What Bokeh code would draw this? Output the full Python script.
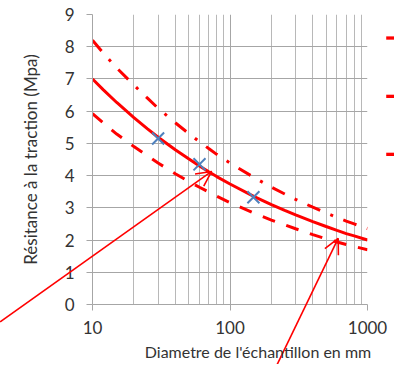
from bokeh.plotting import figure
from bokeh.models import Range1d, FixedTicker, PrintfTickFormatter, Arrow, OpenHead
from bokeh.core.properties import value
from bokeh.embed import file_html
from bokeh.resources import INLINE

# ---- data ----
diam = [10, 12, 15, 20, 25, 30, 40, 50, 60, 70, 80, 100, 150, 200, 250, 300, 400, 500, 600, 700, 800, 1000]
mean_res = [7.00, 6.66, 6.27, 5.80, 5.46, 5.19, 4.80, 4.52, 4.30, 4.12, 3.97, 3.74,
            3.35, 3.10, 2.92, 2.78, 2.57, 2.42, 2.30, 2.20, 2.13, 2.00]
upper_res = [8.20, 7.80, 7.34, 6.81, 6.41, 6.09, 5.64, 5.31, 5.05, 4.84, 4.66, 4.39,
             3.94, 3.64, 3.43, 3.26, 3.02, 2.84, 2.70, 2.59, 2.50, 2.36]
lower_res = [5.92, 5.63, 5.29, 4.90, 4.62, 4.39, 4.06, 3.82, 3.64, 3.49, 3.36, 3.16,
             2.83, 2.62, 2.47, 2.35, 2.17, 2.04, 1.94, 1.86, 1.80, 1.70]
meas_diam = [30, 60, 148]
meas_res = [5.15, 4.35, 3.33]
arrow_x0 = [2.13, 207]
arrow_y0 = [-0.54, -2.10]
arrow_x1 = [73.5, 612]
arrow_y1 = [4.13, 2.05]
x_major = [10, 100, 1000]
x_minor = [20, 30, 40, 50, 60, 70, 80, 90, 200, 300, 400, 500, 600, 700, 800, 900]
y_ticks = [0, 1, 2, 3, 4, 5, 6, 7, 8, 9]
y_title = "Résitance à la traction (Mpa)"
x_title = "Diametre de l'échantillon en mm"

# placement of the decorations (outside the plot frame, in axis units)
X_TITLE_X, X_TITLE_Y = 24.0, -1.47
KEY_X0, KEY_X1 = 1368, 1570
KEY_Y = [8.27, 6.46, 4.66]

FONT = "Lato"
TXT = "#333333"
RED = "#FF0000"
GRID = "#A6A6A6"

p = figure(frame_width=275, frame_height=290, x_axis_type="log",
           x_range=Range1d(10, 1000), y_range=Range1d(0, 9),
           output_backend="svg", toolbar_location=None,
           min_border_left=92, min_border_right=27, min_border_top=14, min_border_bottom=60)
p.outline_line_color = None
p.background_fill_color = "white"
p.border_fill_color = "white"

xt = FixedTicker(ticks=x_major, minor_ticks=x_minor)
p.xaxis.ticker = xt
p.xgrid.ticker = xt
p.xaxis.formatter = PrintfTickFormatter(format="%d")
p.yaxis.ticker = FixedTicker(ticks=y_ticks, minor_ticks=[])

for ax in (p.xaxis[0], p.yaxis[0]):
    ax.axis_line_color = GRID
    ax.major_tick_line_color = GRID
    ax.minor_tick_line_color = None
    ax.major_tick_in = 0
    ax.major_tick_out = 6
    ax.major_label_text_font = FONT
    ax.major_label_text_font_size = "17px"
    ax.major_label_text_color = TXT
    ax.axis_label_text_font = FONT
    ax.axis_label_text_font_size = "17px"
    ax.axis_label_text_font_style = "normal"
    ax.axis_label_text_color = TXT
p.xaxis.major_label_standoff = 10
p.yaxis.major_label_standoff = 12
p.yaxis.axis_label = y_title
p.yaxis.axis_label_standoff = 21

p.xgrid.grid_line_color = GRID
p.xgrid.minor_grid_line_color = "#B8B8B8"
p.ygrid.grid_line_color = GRID

styles = [dict(line_color=RED, line_width=3),
          dict(line_color=RED, line_width=3, line_dash="14 11 3 11"),
          dict(line_color=RED, line_width=3, line_dash="13 12")]
for ys, st in zip((mean_res, upper_res, lower_res), styles):
    p.line(diam, ys, **st)

p.scatter(meas_diam, meas_res, marker="x", size=17, line_color="#4F81BD", line_width=2)

# arrow shafts (overlay level so they may leave the frame), heads via Arrow
p.segment(x0=arrow_x0, y0=arrow_y0, x1=arrow_x1, y1=arrow_y1,
          line_color=RED, line_width=1.6, level="overlay")
for i in range(len(arrow_x0)):
    p.add_layout(Arrow(x_start=arrow_x0[i], y_start=arrow_y0[i],
                       x_end=arrow_x1[i], y_end=arrow_y1[i],
                       line_alpha=0,
                       end=OpenHead(size=15, line_color=RED, line_width=1.6)))

# x axis title (offset to the right as in the reference)
p.text(x=[X_TITLE_X], y=[X_TITLE_Y], text=[x_title], text_font=value(FONT),
       text_font_size="16px", text_color=TXT, text_baseline="alphabetic",
       text_align="left", level="overlay")

# legend keys (their labels lie beyond the visible area in the reference)
p.segment(x0=[KEY_X0] * 3, y0=KEY_Y, x1=[KEY_X1] * 3, y1=KEY_Y,
          line_color=RED, line_width=3.3, level="overlay")

open("out.html", "w").write(file_html(p, INLINE))
